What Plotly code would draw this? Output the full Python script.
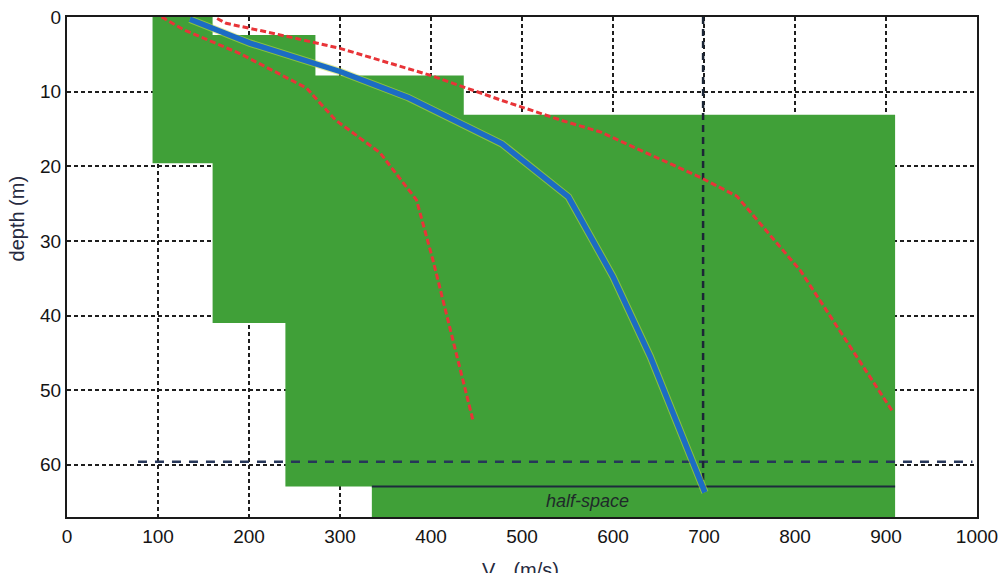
import plotly.graph_objects as go

# ---------------- data ----------------
x_ticks = [0, 100, 200, 300, 400, 500, 600, 700, 800, 900, 1000]
y_ticks = [0, 10, 20, 30, 40, 50, 60]

# green envelope: lower-velocity bound steps (velocity, bottom depth of step)
vmin_vel = [94, 160, 240, 335]
vmin_bottom = [19.6, 41.0, 62.9, 67.0]
# upper-velocity bound steps
vmax_vel = [160, 273, 436, 910]
vmax_bottom = [2.4, 7.85, 13.1, 67.0]

# median profile (blue)
med_vel = [135, 165, 201, 300, 375, 478, 551, 600, 641, 701]
med_depth = [0.3, 1.7, 3.5, 7.3, 10.8, 17.0, 24.1, 34.8, 45.5, 63.7]

# lower bound (red dashed, left)
lo_vel = [104, 128, 190, 263, 295, 344, 384, 402, 446]
lo_depth = [0.0, 1.7, 4.9, 9.5, 13.8, 18.2, 24.5, 32.5, 54.0]

# upper bound (red dashed, right)
hi_vel = [165, 175, 227, 300, 399, 476, 542, 586, 696, 736, 806, 908]
hi_depth = [0.2, 0.85, 2.2, 4.2, 7.8, 11.1, 13.8, 15.4, 21.5, 24.0, 34.0, 53.0]

# reference lines
ref_depth_line = 59.6
ref_depth_span = [78, 995]
ref_vel_line = 699
ref_vel_span = [0, 64.3]
halfspace_depth = 62.9
halfspace_span = [335, 910]
halfspace_label = "half-space"
halfspace_label_pos = (572, 64.8)

x_title = "V<sub>s</sub>  (m/s)"
y_title = "depth (m)"

# ---------------- build envelope polygon ----------------
px, py = [], []
top = 0.0
for v, b in zip(vmin_vel, vmin_bottom):
    px += [v, v]
    py += [top, b]
    top = b
rev = list(zip(vmax_vel, vmax_bottom))[::-1]
for i, (v, b) in enumerate(rev):
    nxt_top = rev[i + 1][1] if i + 1 < len(rev) else 0.0
    px += [v, v]
    py += [b, nxt_top]
px.append(px[0])
py.append(py[0])

GREEN = "rgb(64,160,56)"
fig = go.Figure()

fig.add_trace(go.Scatter(x=px, y=py, fill="toself", fillcolor=GREEN,
                         mode="lines", line=dict(width=0, color=GREEN),
                         hoverinfo="skip", showlegend=False))

# half-space boundary
fig.add_trace(go.Scatter(x=halfspace_span, y=[halfspace_depth, halfspace_depth],
                         mode="lines", line=dict(color="#1d2a3c", width=2),
                         showlegend=False))

# reference horizontal long-dashed line
fig.add_trace(go.Scatter(x=ref_depth_span, y=[ref_depth_line, ref_depth_line],
                         mode="lines", line=dict(color="#263659", width=2.5, dash="9px,8px"),
                         showlegend=False))

# reference vertical dashed line
fig.add_trace(go.Scatter(x=[ref_vel_line, ref_vel_line], y=ref_vel_span,
                         mode="lines", line=dict(color="#1c2636", width=2.5, dash="7px,5px"),
                         showlegend=False))

# red dashed bounds
for xs, ys in ((lo_vel, lo_depth), (hi_vel, hi_depth)):
    fig.add_trace(go.Scatter(x=xs, y=ys, mode="lines",
                             line=dict(color="rgb(232,52,56)", width=3, dash="6px,3px"),
                             showlegend=False))

# median with light halo
fig.add_trace(go.Scatter(x=med_vel, y=med_depth, mode="lines",
                         line=dict(color="rgba(200,220,70,0.55)", width=7.5),
                         showlegend=False, hoverinfo="skip"))
fig.add_trace(go.Scatter(x=med_vel, y=med_depth, mode="lines",
                         line=dict(color="rgb(28,108,196)", width=5.5),
                         showlegend=False))

TICKFONT = dict(family="Liberation Sans, Arial, sans-serif", size=19, color="#141414")

fig.update_xaxes(range=[0, 1000], tickvals=x_ticks, ticktext=[str(t) for t in x_ticks],
                 showgrid=True, gridcolor="#1e1e1e", gridwidth=2, griddash="4px,3px",
                 zeroline=False, showline=True, linecolor="#1a1a1a", linewidth=2,
                 mirror=True, ticks="", tickfont=TICKFONT, ticklabelstandoff=1,
                 ticklabeloverflow="allow", automargin=False)
fig.update_yaxes(range=[67, 0], tickvals=y_ticks, ticktext=[str(t) for t in y_ticks],
                 showgrid=True, gridcolor="#1e1e1e", gridwidth=2, griddash="4px,3px",
                 zeroline=False, showline=True, linecolor="#1a1a1a", linewidth=2,
                 mirror=True, ticks="", tickfont=TICKFONT, ticklabelstandoff=0,
                 ticklabeloverflow="allow", automargin=False)

fig.add_annotation(x=halfspace_label_pos[0], y=halfspace_label_pos[1], xref="x", yref="y",
                   text=f"<i>{halfspace_label}</i>", showarrow=False,
                   font=dict(family="Liberation Sans, Arial, sans-serif", size=18, color="#1f2a2a"))

fig.add_annotation(x=0, y=27, xref="paper", yref="y", xanchor="center", yanchor="middle",
                   xshift=-50, text=y_title, textangle=-90, showarrow=False,
                   font=dict(family="Liberation Sans, Arial, sans-serif", size=20, color="#262a40"))

fig.add_annotation(x=498, y=0, xref="x", yref="paper", xanchor="center", yanchor="top",
                   yshift=-40, text=x_title, showarrow=False,
                   font=dict(family="Liberation Sans, Arial, sans-serif", size=20, color="#262a40"))

fig.update_layout(width=1001, height=573, margin=dict(l=67, r=24, t=17, b=56, autoexpand=False),
                  paper_bgcolor="white", plot_bgcolor="white", showlegend=False)

fig.write_html("out.html")
